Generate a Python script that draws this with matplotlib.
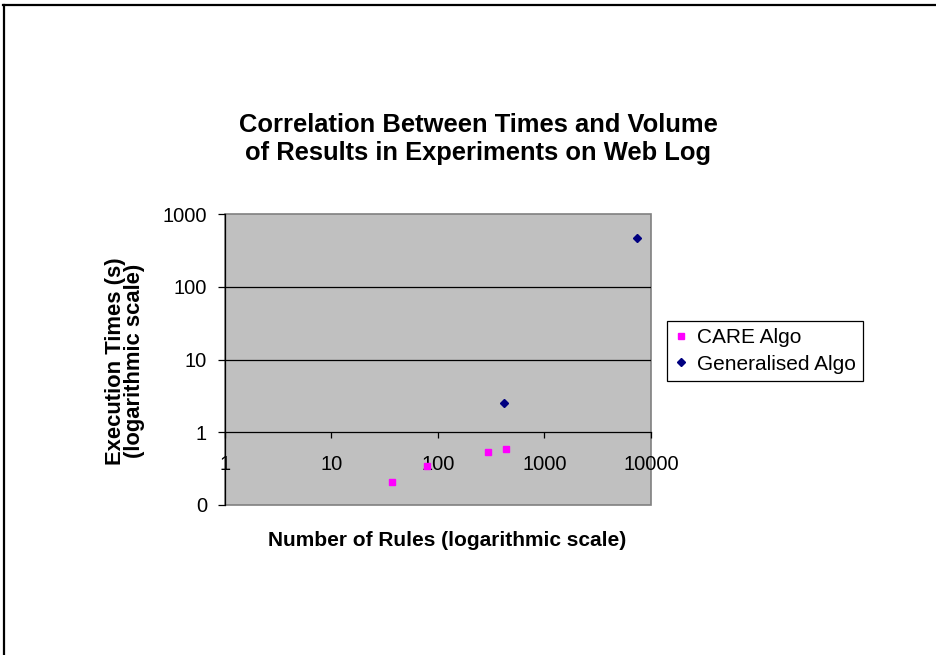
import matplotlib.pyplot as plt
from matplotlib.lines import Line2D
from matplotlib.patches import Rectangle

plt.rcParams['font.family'] = ['Liberation Sans', 'DejaVu Sans']

# number of rules vs execution time, both on log scales
care_rules = [37, 79, 295, 431]
care_times = [0.21, 0.34, 0.54, 0.58]
gen_rules = [420, 7390]
gen_times = [2.55, 467]

x_ticks = [1, 10, 100, 1000, 10000]
y_ticks = [0.1, 1, 10, 100, 1000]
y_tick_labels = ["0", "1", "10", "100", "1000"]

W, H = 937, 655
fig = plt.figure(figsize=(W / 100, H / 100), dpi=100)

# plot area in pixels: left 225, right 651, top 214, bottom 505
ax = fig.add_axes([225 / W, 1 - 505 / H, (651 - 225) / W, (505 - 214) / H])
ax.set_facecolor('#C0C0C0')
ax.set_xscale('log')
ax.set_yscale('log')
ax.set_xlim(1, 10000)
ax.set_ylim(0.1, 1000)

# gray plot-area border
ax.add_patch(Rectangle((0, 0), 1, 1, transform=ax.transAxes, fill=False,
                       edgecolor='#808080', linewidth=1.2, zorder=1, clip_on=False))
for s in ['top', 'right']:
    ax.spines[s].set_visible(False)
ax.spines['left'].set_color('black')
ax.spines['left'].set_linewidth(0.9)
ax.spines['bottom'].set_position(('data', 1))
ax.spines['bottom'].set_linewidth(0.9)

for v in [10, 100]:
    ax.axhline(v, color='black', linewidth=0.9, zorder=1)

ax.set_xticks(x_ticks)
ax.set_xticklabels([str(v) for v in x_ticks])
ax.set_yticks(y_ticks)
ax.set_yticklabels(y_tick_labels)
ax.minorticks_off()
ax.tick_params(axis='x', direction='out', length=4.5, width=0.9, pad=12, labelsize=14.5)
ax.tick_params(axis='y', direction='out', length=5, width=0.9, pad=8, labelsize=14.5)

ax.plot(care_rules, care_times, linestyle='none', marker='s', markersize=5,
        color='#FF00FF', zorder=3)
ax.plot(gen_rules, gen_times, linestyle='none', marker='D', markersize=4,
        color='#000080', zorder=3)

fig.text(478 / W, 1 - 139 / H,
         "Correlation Between Times and Volume\nof Results in Experiments on Web Log",
         ha='center', va='center', fontsize=18.4, fontweight='bold', linespacing=1.17)
fig.text(447 / W, 1 - 540 / H, "Number of Rules (logarithmic scale)",
         ha='center', va='center', fontsize=15, fontweight='bold')
fig.text(125 / W, 1 - 361 / H, "Execution Times (s)\n(logarithmic scale)",
         ha='center', va='center', fontsize=15.8, fontweight='bold', rotation=90,
         linespacing=0.92)

handles = [
    Line2D([], [], linestyle='none', marker='s', markersize=5, color='#FF00FF'),
    Line2D([], [], linestyle='none', marker='D', markersize=4, color='#000080'),
]
leg = fig.legend(handles, ["CARE Algo", "Generalised Algo"],
                 loc='upper left', bbox_to_anchor=(667 / W, 1 - 321 / H),
                 fontsize=15, frameon=True, fancybox=False, framealpha=1,
                 edgecolor='black', handlelength=0.6, handletextpad=0.5,
                 borderpad=0.35, labelspacing=0.35, borderaxespad=0)
leg.get_frame().set_linewidth(0.9)

# outer frame: only top and left edges show
fig.add_artist(Line2D([3 / W, 1], [1 - 5 / H, 1 - 5 / H], color='black', linewidth=1.6))
fig.add_artist(Line2D([4 / W, 4 / W], [0, 1 - 5 / H], color='black', linewidth=1.6))

fig.savefig('out.png', dpi=100)
